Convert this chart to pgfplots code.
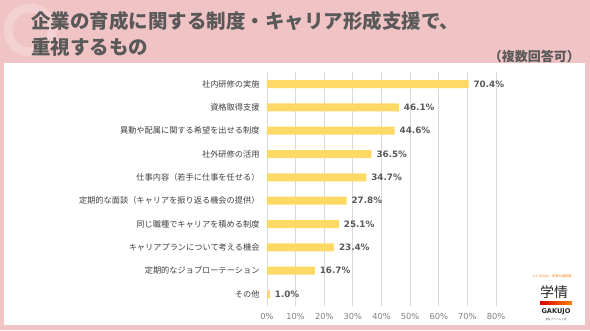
\documentclass[border=0pt]{standalone}
\usepackage{pgfplots}
\pgfplotsset{compat=1.18}
\usepackage{fontspec}
\setmainfont{Noto Sans CJK JP}
\newfontfamily\dejavu{DejaVu Sans}
\definecolor{bgpink}{HTML}{F0C3C5}
\definecolor{titlegray}{HTML}{595959}
\definecolor{bargold}{HTML}{FFD966}
\definecolor{gridgray}{HTML}{D9D9D9}
\definecolor{labgray}{HTML}{404040}
\definecolor{tickgray}{HTML}{808080}
\begin{document}
\begin{tikzpicture}
\begin{scope}[x=1pt,y=1pt]
\fill[bgpink] (0,0) rectangle (590,330);
\begin{scope}
\clip (0,267) rectangle (590,330);
\draw[white,opacity=0.22,line width=9pt] (30,300) circle (22pt);
\end{scope}
\fill[white] (4,5) rectangle (585,267);
\node[anchor=west,inner sep=0pt,text=titlegray,font=\fontsize{19.5}{19.5}\selectfont\bfseries] at (31,309) {企業の育成に関する制度・キャリア形成支援で、};
\node[anchor=west,inner sep=0pt,text=titlegray,font=\fontsize{19.5}{19.5}\selectfont\bfseries] at (31,283) {重視するもの};
\node[anchor=east,inner sep=0pt,text=titlegray,font=\fontsize{13}{13}\selectfont\bfseries] at (580,273) {（複数回答可）};
\end{scope}
\begin{axis}[
  at={(267pt,24.3pt)}, anchor=south west,
  scale only axis, width=229pt, height=233.3pt,
  xbar, bar width=8pt,
  xmin=0, xmax=80,
  ymin=-0.5, ymax=9.5,
  y dir=reverse,
  ytick={0,...,9},
  yticklabels={社内研修の実施,資格取得支援,異動や配属に関する希望を出せる制度,社外研修の活用,仕事内容（若手に仕事を任せる）,定期的な面談（キャリアを振り返る機会の提供）,同じ職種でキャリアを積める制度,キャリアプランについて考える機会,定期的なジョブローテーション,その他},
  xtick={0,10,...,80},
  xticklabel={\pgfmathprintnumber{\tick}\%},
  /pgf/number format/assume math mode=true,
  xmajorgrids, major grid style={gridgray,line width=0.8pt},
  axis line style={draw=none},
  major tick length=0pt,
  xticklabel style={font=\dejavu\fontsize{8.3}{9}\selectfont,text=tickgray,yshift=-4pt},
  yticklabel style={font=\fontsize{8.2}{9}\selectfont,text=labgray,xshift=-4pt},
  nodes near coords={\pgfmathprintnumber[fixed,fixed zerofill,precision=1]{\pgfplotspointmeta}\%},
  point meta=x,
  every node near coord/.append style={font=\dejavu\bfseries\fontsize{8.8}{9}\selectfont,text=titlegray,anchor=west,xshift=1.5pt},
  clip=false,
]
\addplot[fill=bargold,draw=none] coordinates {
(70.4,0) (46.1,1) (44.6,2) (36.5,3) (34.7,4) (27.8,5) (25.1,6) (23.4,7) (16.7,8) (1.0,9)
};
\end{axis}
\begin{scope}[x=1pt,y=1pt]
\node[inner sep=0pt,text=orange!90!red,font=\fontsize{3.3}{3.5}\selectfont] at (552,54) {つくるのは、未来の選択肢};
\node[inner sep=0pt,text=black!85,font=\fontsize{14}{14}\selectfont] at (554,37.5) {学情};
\shade[left color=red!85!black,right color=orange] (540,25.5) rectangle (572,28.5);
\node[inner sep=0pt,text=black!85,font=\dejavu\bfseries\fontsize{6.6}{7}\selectfont] at (556,18) {GAKUJO};
\node[inner sep=0pt,text=black!60,font=\fontsize{2.6}{3}\selectfont] at (556,10.5) {東証プライム上場};
\end{scope}
\pgfresetboundingbox
\useasboundingbox (0,0) rectangle (590pt,330pt);
\end{tikzpicture}
\end{document}
